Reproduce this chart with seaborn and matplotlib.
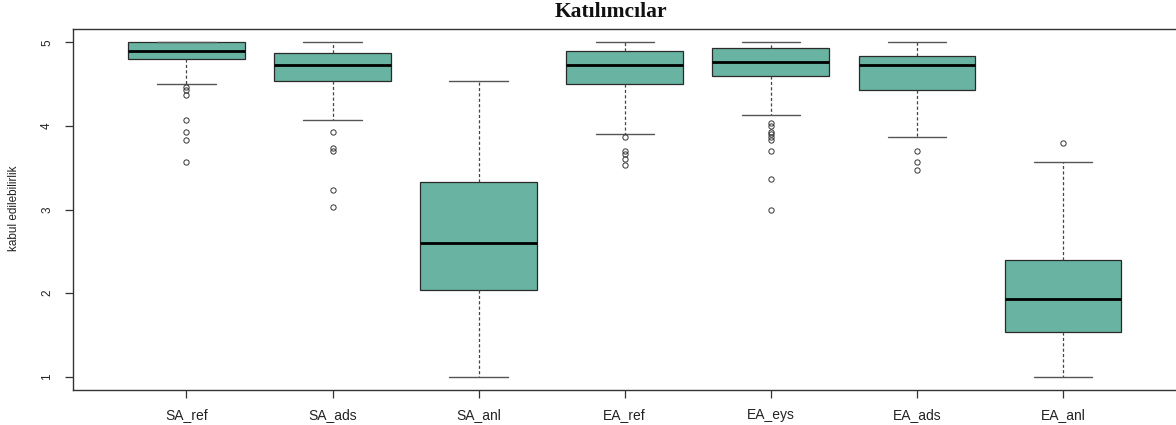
import numpy as np
import pandas as pd
import matplotlib
matplotlib.use("Agg")
import matplotlib.pyplot as plt
import seaborn as sns

# ---- data ----
categories = ["SA_ref", "SA_ads", "SA_anl", "EA_ref", "EA_eys", "EA_ads", "EA_anl"]
whisker_low = [4.500, 4.067, 1.000, 3.900, 4.133, 3.867, 1.000]
q1_values   = [4.800, 4.533, 2.033, 4.500, 4.600, 4.433, 1.533]
medians     = [4.900, 4.733, 2.600, 4.733, 4.767, 4.733, 1.933]
q3_values   = [5.000, 4.867, 3.333, 4.900, 4.933, 4.833, 2.400]
whisker_high = [5.000, 5.000, 4.533, 5.000, 5.000, 5.000, 3.567]
outliers_low = [
    [4.467, 4.433, 4.367, 4.067, 3.933, 3.833, 3.567],
    [3.933, 3.733, 3.700, 3.233, 3.033],
    [],
    [3.867, 3.700, 3.667, 3.600, 3.533],
    [4.033, 4.000, 3.933, 3.900, 3.867, 3.833, 3.700, 3.367, 3.000],
    [3.700, 3.567, 3.467],
    [],
]
outliers_high = [[], [], [], [], [], [], [3.800]]

title = "Katılımcılar"
ylabel = "kabul edilebilirlik"


def build_sample(lo, q1, med, q3, hi, out_lo, out_hi):
    # 101 sorted values whose 25/50/75th percentiles equal q1/med/q3
    vals = list(out_lo) + [lo] + [q1] * (25 - len(out_lo))
    vals += [med] * 25
    vals += [q3] * 25
    vals += [q3] * (24 - len(out_hi)) + [hi] + list(out_hi)
    return vals


rows = []
for i, cat in enumerate(categories):
    for v in build_sample(whisker_low[i], q1_values[i], medians[i], q3_values[i],
                          whisker_high[i], outliers_low[i], outliers_high[i]):
        rows.append((cat, v))
df = pd.DataFrame(rows, columns=["group", "value"])

sns.set_style("ticks")
plt.rcParams["font.family"] = ["Liberation Sans", "DejaVu Sans"]

fig = plt.figure(figsize=(11.76, 4.25), dpi=100)
ax = fig.add_axes([72.5 / 1176, 35 / 425, (1177 - 72.5) / 1176, (390 - 29) / 425])

line_col = "#2a2a2a"
sns.boxplot(
    data=df, x="group", y="value", order=categories, ax=ax,
    color="#69b3a2", saturation=1, width=0.8, whis=1.5,
    linecolor=line_col, linewidth=0.9,
    medianprops={"color": "black", "linewidth": 2.0},
    whiskerprops={"linestyle": (0, (2.5, 1.8)), "color": "#444444", "linewidth": 0.9},
    capprops={"color": "#555555", "linewidth": 1.0},
    flierprops={"marker": "o", "markersize": 3.8, "markerfacecolor": "none",
                "markeredgecolor": "#333333", "markeredgewidth": 0.7},
)

ax.set_xlim(-0.78, 6.78)
ax.set_ylim(0.84, 5.16)
ax.set_yticks([1, 2, 3, 4, 5])
ax.set_yticklabels(["1", "2", "3", "4", "5"], rotation=90, va="center", fontsize=8.5)
ax.set_xticks(range(len(categories)))
ax.set_xticklabels(categories, fontsize=10)
ax.tick_params(axis="both", direction="out", length=6, width=0.9, colors="#333333",
               labelcolor="#222222")
ax.tick_params(axis="y", pad=8)
ax.tick_params(axis="x", pad=7)
ax.set_xlabel("")
ax.set_ylabel("")
for s in ax.spines.values():
    s.set_visible(True)
    s.set_color("#333333")
    s.set_linewidth(1.0)

fig.text(14 / 1176, 1 - 208 / 425, ylabel, rotation=90, ha="center", va="center",
         fontsize=8.5, color="#222222")
fig.text(611 / 1176, 1 - 12 / 425, title, ha="center", va="center",
         fontsize=15.5, fontweight="bold", family=["Liberation Serif", "DejaVu Serif"],
         color="#111111")

fig.savefig("out.png", dpi=100)
